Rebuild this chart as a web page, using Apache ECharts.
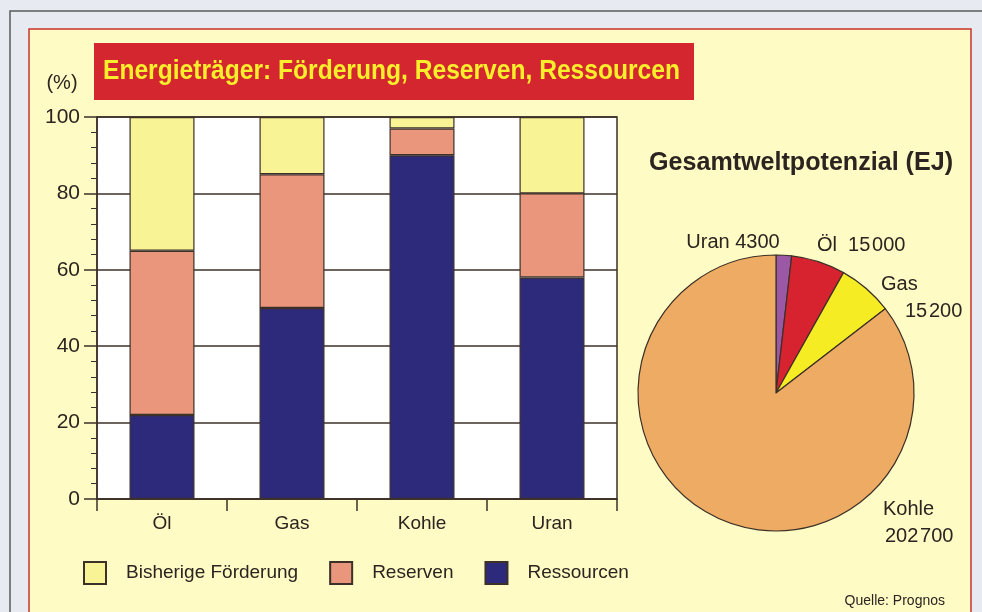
<!DOCTYPE html>
<html>
<head>
<meta charset="utf-8">
<script src="https://cdn.jsdelivr.net/npm/echarts@6/dist/echarts.min.js"></script>
<style>
html,body{margin:0;padding:0;background:#e7ebf1;}
#c{width:982px;height:612px;}
</style>
</head>
<body>
<div id="c"></div>
<script>
// ---- data ----
const categories = ['Öl', 'Gas', 'Kohle', 'Uran'];
const seriesNames = ['Ressourcen', 'Reserven', 'Bisherige Förderung'];
const ressourcen = [22, 50, 90, 58];
const reserven = [43, 35, 7, 22];
const foerderung = [35, 15, 3, 20];
const yTicks = [0, 20, 40, 60, 80, 100];
const pieNames = ['Uran', 'Öl', 'Gas', 'Kohle'];
const pieValues = [4300, 15000, 15200, 202700];
const titleText = 'Energieträger: Förderung, Reserven, Ressourcen';
const pieTitle = 'Gesamtweltpotenzial (EJ)';
const unitText = '(%)';
const sourceText = 'Quelle: Prognos';

const barColors = ['#2d2a7b', '#e9967c', '#f8f495'];
const pieColors = ['#9b58a4', '#d7232f', '#f6ec24', '#eeab63'];
const ink = '#2b2420';
const lineCol = '#3d3028';
const sans = '"Liberation Sans", Arial, sans-serif';

function fmt(v) {
  const s = String(v);
  return v >= 10000 ? s.slice(0, s.length - 3) + '\u200A' + s.slice(-3) : s;
}

// measure text to squeeze into condensed widths
const mctx = document.createElement('canvas').getContext('2d');
function textW(t, font) { mctx.font = font; return mctx.measureText(t).width; }
const titleFont = 'bold 27px ' + sans;
const titleScale = 577 / textW(titleText, titleFont);
const pieTitleFont = 'bold 25px ' + sans;
const pieTitleScale = 304 / textW(pieTitle, pieTitleFont);

const chart = echarts.init(document.getElementById('c'), null, {renderer: 'canvas'});

const barData = [ressourcen, reserven, foerderung];
const barSeries = seriesNames.map((n, i) => ({
  name: n,
  type: 'bar',
  stack: 'total',
  barWidth: '50%',
  data: barData[i],
  itemStyle: {color: barColors[i], borderColor: lineCol, borderWidth: 1.2},
  emphasis: {disabled: true},
  z: 3
}));

// pie label anchors
const pieLabelSpecs = [
  {lines: [pieNames[0] + ' ' + fmt(pieValues[0])], x: 733, y: 242, align: 'center'},
  {lines: [pieNames[1] + '  ' + fmt(pieValues[1])], x: 817, y: 245, align: 'left'},
  {lines: [pieNames[2], fmt(pieValues[2])], x: 881, y: 284, align: 'left', indent: [0, 24]},
  {lines: [pieNames[3], fmt(pieValues[3])], x: 883, y: 509, align: 'left', indent: [0, 2]}
];
const pieLabelGraphics = [];
pieLabelSpecs.forEach(s => {
  s.lines.forEach((t, j) => {
    pieLabelGraphics.push({
      type: 'text',
      x: s.x + (s.indent ? s.indent[j] : 0),
      y: s.y + j * 27,
      style: {text: t, fill: ink, font: '20px ' + sans, textAlign: s.align, textVerticalAlign: 'middle'},
      z: 10
    });
  });
});

const option = {
  backgroundColor: '#e7ebf1',
  animation: false,
  grid: {
    left: 97, top: 117, width: 520, height: 382,
    show: true, backgroundColor: '#ffffff', borderColor: lineCol, borderWidth: 1.5
  },
  legend: {
    left: 83, top: 561, padding: 0,
    itemWidth: 22, itemHeight: 22, itemGap: 31,
    icon: 'rect',
    data: ['Bisherige Förderung', 'Reserven', 'Ressourcen'],
    textStyle: {fontSize: 19, color: ink, fontFamily: sans, padding: [0, 0, 0, 15]},
    selectedMode: false
  },
  xAxis: {
    type: 'category',
    data: categories,
    axisLine: {lineStyle: {color: lineCol, width: 1.5}},
    axisTick: {show: true, length: 12, lineStyle: {color: lineCol, width: 1.5}},
    axisLabel: {fontSize: 19, color: ink, fontFamily: sans, margin: 15},
    splitLine: {show: false}
  },
  yAxis: {
    type: 'value',
    min: yTicks[0], max: yTicks[yTicks.length - 1], interval: 20,
    axisLine: {show: true, lineStyle: {color: lineCol, width: 1.5}},
    axisTick: {show: true, length: 13, lineStyle: {color: lineCol, width: 1.5}},
    minorTick: {show: true, splitNumber: 5, length: 6, lineStyle: {color: lineCol, width: 1}},
    axisLabel: {fontSize: 21, color: ink, fontFamily: sans, margin: 17},
    splitLine: {show: true, lineStyle: {color: lineCol, width: 1.5}}
  },
  series: barSeries.concat([{
    type: 'pie',
    center: [776, 393],
    radius: 138,
    startAngle: 90,
    clockwise: true,
    label: {show: false},
    labelLine: {show: false},
    emphasis: {disabled: true},
    itemStyle: {borderColor: lineCol, borderWidth: 1.2},
    data: pieNames.map((n, i) => ({name: n, value: pieValues[i], itemStyle: {color: pieColors[i]}}))
  }]),
  graphic: [
    {type: 'polyline', shape: {points: [[10, 612], [10, 11], [982, 11]]}, style: {stroke: '#5a5a5a', lineWidth: 1.5, fill: null}, z: -20},
    {type: 'rect', shape: {x: 29, y: 29, width: 942, height: 600}, style: {fill: '#fefbc4', stroke: '#c9332b', lineWidth: 1.5}, z: -10},
    {type: 'rect', shape: {x: 94, y: 43, width: 600, height: 57}, style: {fill: '#d4262f'}, z: 5},
    {type: 'text', x: 103, y: 72, scaleX: titleScale, originX: 0, style: {text: titleText, fill: '#f7ef2b', font: titleFont, textVerticalAlign: 'middle'}, z: 6},
    {type: 'text', x: 62, y: 83, style: {text: unitText, fill: ink, font: '20px ' + sans, textAlign: 'center', textVerticalAlign: 'middle'}, z: 6},
    {type: 'text', x: 649, y: 163, scaleX: pieTitleScale, style: {text: pieTitle, fill: ink, font: pieTitleFont, textAlign: 'left', textVerticalAlign: 'middle'}, z: 6},
    {type: 'text', x: 945, y: 601, style: {text: sourceText, fill: ink, font: '14px ' + sans, textAlign: 'right', textVerticalAlign: 'middle'}, z: 6}
  ].concat(pieLabelGraphics)
};
chart.setOption(option);
</script>
</body>
</html>
